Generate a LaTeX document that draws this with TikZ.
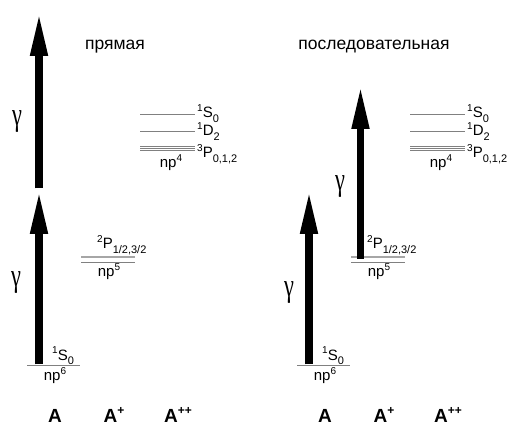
\documentclass[tikz,border=0pt]{standalone}
\usepackage{fontspec}
\setmainfont{Liberation Sans}
\newfontfamily\gamfont{Liberation Serif}
\usetikzlibrary{arrows.meta}
\newcommand\spx[1]{\raisebox{0.42em}{\fontsize{10}{10}\selectfont #1}}
\newcommand\sbx[1]{\raisebox{-0.28em}{\fontsize{11}{11}\selectfont #1}}
\newcommand\spion[1]{\raisebox{0.42em}{\fontsize{12}{12}\selectfont #1}}
\newcommand\gam{\scalebox{0.72}[1.05]{γ}}
\begin{document}
\begin{tikzpicture}[x=1pt,y=-1pt,
  lvl/.style={draw=black!50, line width=0.9pt},
  lvllight/.style={draw=black!35, line width=1.6pt},
  photon/.style={line width=7.5pt, -{Triangle[width=16pt,length=44pt]}},
  lbl/.style={font=\fontsize{15}{15}\selectfont, inner sep=0pt, anchor=base west},
  cfg/.style={font=\fontsize{15}{15}\selectfont, inner sep=0pt, anchor=base},
  ion/.style={font=\bfseries\fontsize{19}{19}\selectfont, inner sep=0pt, anchor=base},
  title/.style={font=\fontsize{17.5}{17.5}\selectfont, inner sep=0pt, anchor=base},
  gamma/.style={font=\gamfont\fontsize{31}{31}\selectfont, inner sep=0pt}]
\useasboundingbox (0,0) rectangle (507,425);

\foreach \p/\dx in {L/0,R/270}{
  % ground np6
  \coordinate (\p g1) at (27+\dx,365); \coordinate (\p g2) at (80+\dx,365);
  \draw[lvl] (\p g1) -- (\p g2);
  \node[lbl] (\p gS) at (52+\dx,360) {\spx{1}S\sbx{0}};
  \node[cfg] (\p gc) at (55+\dx,381) {np\spx{6}};
  % np5
  \coordinate (\p a1) at (81+\dx,257); \coordinate (\p a2) at (135+\dx,257);
  \coordinate (\p b1) at (81+\dx,262); \coordinate (\p b2) at (135+\dx,262);
  \draw[lvllight] (\p a1) -- (\p a2);
  \draw[lvl] (\p b1) -- (\p b2);
  \node[lbl] (\p P) at (97+\dx,249) {\spx{2}P\sbx{1/2,3/2}};
  \node[cfg] (\p c5) at (109+\dx,277) {np\spx{5}};
  % np4
  \coordinate (\p s1) at (140+\dx,114); \coordinate (\p s2) at (195+\dx,114);
  \coordinate (\p d1) at (140+\dx,131.5); \coordinate (\p d2) at (195+\dx,131.5);
  \draw[lvl] (\p s1) -- (\p s2);
  \draw[lvl] (\p d1) -- (\p d2);
  \foreach \yy [count=\k] in {146,148.3,150.6}{
    \coordinate (\p t\k a) at (140+\dx,\yy); \coordinate (\p t\k b) at (195+\dx,\yy);
    \draw[lvl, line width=0.9pt] (\p t\k a) -- (\p t\k b);
  }
  \node[lbl] (\p S4) at (197+\dx,118) {\spx{1}S\sbx{0}};
  \node[lbl] (\p D4) at (197+\dx,136) {\spx{1}D\sbx{2}};
  \node[lbl] (\p T4) at (197+\dx,158) {\spx{3}P\sbx{0,1,2}};
  \node[cfg] (\p c4) at (171+\dx,168) {np\spx{4}};
  % ions
  \node[ion] (\p A0) at (55+\dx,422) {A};
  \node[ion] (\p A1) at (114+\dx,422) {A\spion{+}};
  \node[ion] (\p A2) at (178+\dx,422) {A\spion{++}};
}

% titles
\node[title] (t1) at (115,50) {прямая};
\node[title] (t2) at (374,50) {последовательная};

% left: direct two-photon
\coordinate (La0) at (39,364.5);
\coordinate (La1) at (39,190);
\coordinate (La2) at (39,188.5);
\coordinate (La3) at (39,12);
\draw[photon] (La0) -- (La1);
\draw[photon] (La2) -- (La3);
\node[gamma] (Lg1) at (17,121) {\gam};
\node[gamma] (Lg2) at (16,282) {\gam};

% right: sequential
\coordinate (Ra0) at (309,364.5);
\coordinate (Ra1) at (309,190);
\coordinate (Ra2) at (360.5,259);
\coordinate (Ra3) at (360.5,85);
\draw[photon] (Ra0) -- (Ra1);
\draw[photon] (Ra2) -- (Ra3);
\node[gamma] (Rg1) at (289,292) {\gam};
\node[gamma] (Rg2) at (340,186) {\gam};
\end{tikzpicture}
\end{document}
